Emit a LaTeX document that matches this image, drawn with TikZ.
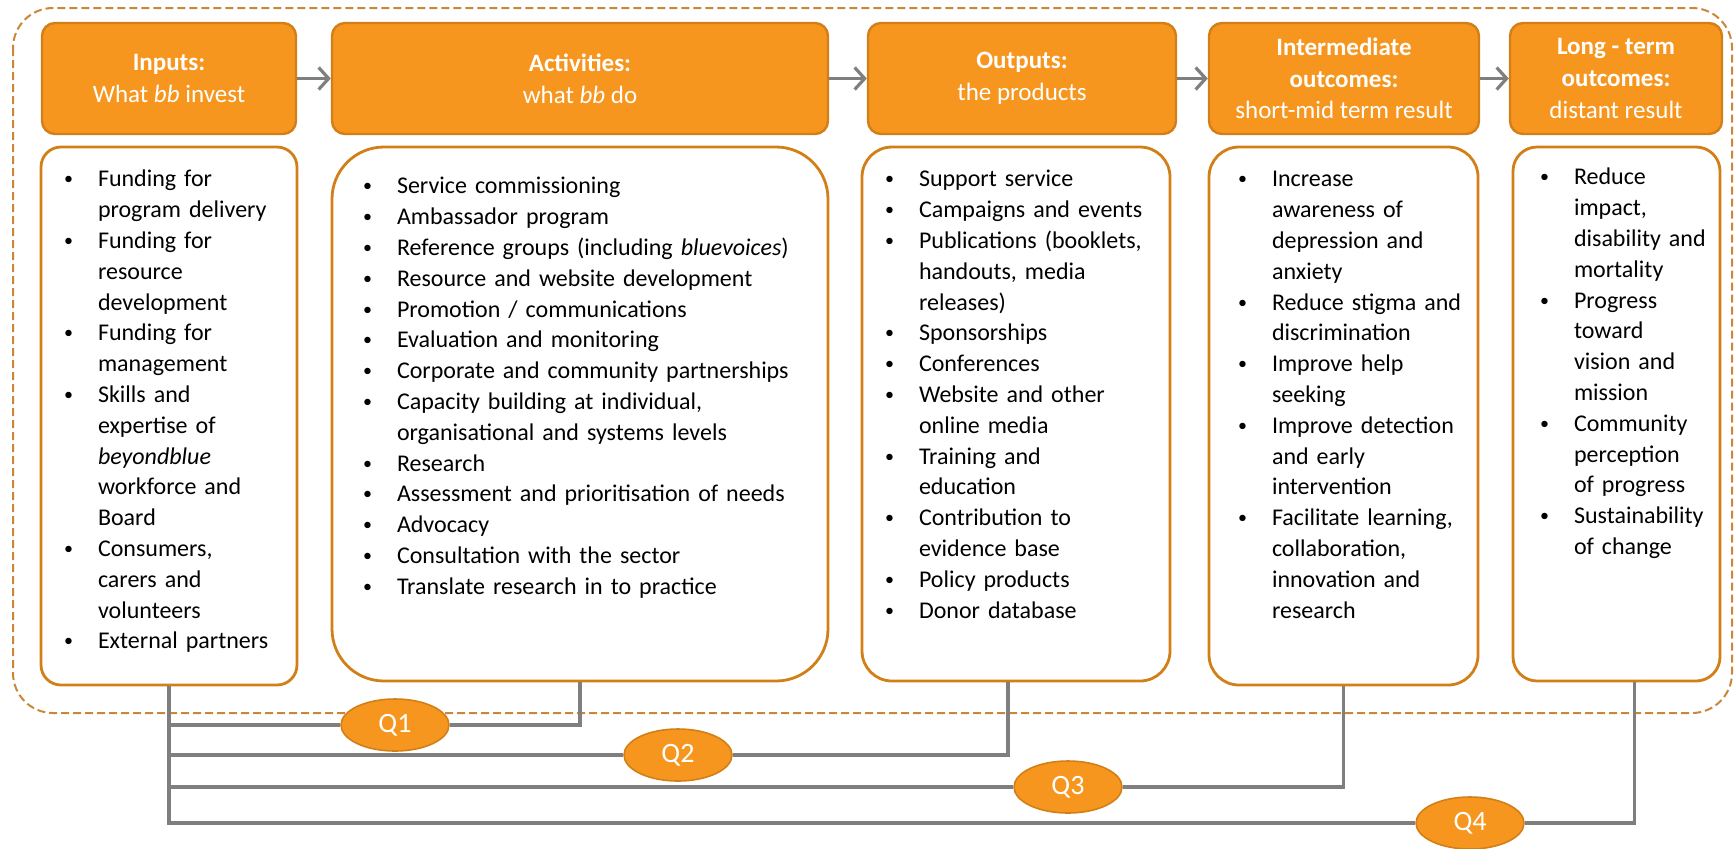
\documentclass[tikz,border=0pt]{standalone}
\usepackage{fontspec}
\setmainfont{Carlito}
\usetikzlibrary{shapes.geometric,arrows.meta}

\definecolor{boxorange}{HTML}{F7961E}
\definecolor{boxedge}{HTML}{D27F17}
\definecolor{dashedge}{HTML}{C9873A}
\definecolor{linkgrey}{HTML}{7F7F7F}

\newcommand{\bitem}[1]{\par\noindent\hangindent=17pt\hangafter=1\strut
  \makebox[17pt][l]{\raisebox{1pt}{\fontsize{9}{9}\selectfont\textbullet}}#1\par}

\tikzset{
  headbox/.style={draw=boxedge, fill=boxorange, line width=1.2pt, rounded corners=6.5pt,
    text=white, align=center, inner sep=0pt, minimum height=55.5pt,
    font=\fontsize{12.5}{15.8}\selectfont},
  bodybox/.style={draw=boxedge, fill=white, line width=1.4pt, inner sep=0pt},
  bodytext/.style={anchor=north west, inner sep=0pt, align=left, xshift=12pt, yshift=-5pt,
    font=\fontsize{12}{15.4}\selectfont},
  flowarrow/.style={draw=linkgrey, line width=1.6pt,
    -{Straight Barb[length=5pt,width=11pt,line width=1.6pt]}},
  qline/.style={draw=linkgrey, line width=1.6pt},
  qmark/.style={ellipse, draw=boxedge, fill=boxorange, line width=0.8pt, text=white,
    minimum width=54pt, minimum height=26pt, inner sep=0pt,
    font=\fontsize{14}{16}\selectfont},
}

\begin{document}
\begin{tikzpicture}[x=0.5pt, y=-0.5pt]
  \useasboundingbox (0,0) rectangle (1734,848);
  \draw[dashedge, line width=1pt, dash pattern=on 4pt off 2pt, rounded corners=20pt]
    (13,8) rectangle (1732,713);

  % header row
  \node[headbox, minimum width=127pt] (inhead) at (169,78.5) {\textbf{Inputs:}\\What \textit{bb} invest};
  \node[headbox, minimum width=248pt] (acthead) at (580,78.5) {\textbf{Activities:}\\what \textit{bb} do};
  \node[headbox, minimum width=154pt] (outhead) at (1022,78.5) {\textbf{Outputs:}\\the products};
  \node[headbox, minimum width=135pt] (midhead) at (1344,78.5) {\textbf{Intermediate}\\\textbf{outcomes:}\\short-mid term result};
  \node[headbox, minimum width=106pt] (longhead) at (1616,78.5) {\textbf{Long - term}\\\textbf{outcomes:}\\distant result};

  \draw[flowarrow] (inhead) -- (acthead);
  \draw[flowarrow] (acthead) -- (outhead);
  \draw[flowarrow] (outhead) -- (midhead);
  \draw[flowarrow] (midhead) -- (longhead);

  % body boxes
  \node[bodybox, rounded corners=10pt, minimum width=128pt, minimum height=269pt] (inbody) at (169,416) {};
  \node[bodybox, rounded corners=26pt, minimum width=248pt, minimum height=267pt] (actbody) at (580,414) {};
  \node[bodybox, rounded corners=15pt, minimum width=154pt, minimum height=267pt] (outbody) at (1016,414) {};
  \node[bodybox, rounded corners=15pt, minimum width=134.5pt, minimum height=269pt] (midbody) at (1343.5,416) {};
  \node[bodybox, rounded corners=12pt, minimum width=103.5pt, minimum height=267pt] (longbody) at (1616.5,414) {};

  \node[bodytext, text width=128pt] (intext) at (inbody.north west) {%
    \bitem{Funding for\newline program delivery}
    \bitem{Funding for\newline resource\newline development}
    \bitem{Funding for\newline management}
    \bitem{Skills and\newline expertise of\newline \textit{beyondblue}\newline workforce and\newline Board}
    \bitem{Consumers,\newline carers and\newline volunteers}
    \bitem{External partners}};
  \node[bodytext, text width=248pt, xshift=4pt, yshift=-3.5pt] (acttext) at (actbody.north west) {%
    \bitem{Service commissioning}
    \bitem{Ambassador program}
    \bitem{Reference groups (including \textit{bluevoices})}
    \bitem{Resource and website development}
    \bitem{Promotion / communications}
    \bitem{Evaluation and monitoring}
    \bitem{Corporate and community partnerships}
    \bitem{Capacity building at individual,\newline organisational and systems levels}
    \bitem{Research}
    \bitem{Assessment and prioritisation of needs}
    \bitem{Advocacy}
    \bitem{Consultation with the sector}
    \bitem{Translate research in to practice}};
  \node[bodytext, text width=154pt] (outtext) at (outbody.north west) {%
    \bitem{Support service}
    \bitem{Campaigns and events}
    \bitem{Publications (booklets,\newline handouts, media\newline releases)}
    \bitem{Sponsorships}
    \bitem{Conferences}
    \bitem{Website and other\newline online media}
    \bitem{Training and\newline education}
    \bitem{Contribution to\newline evidence base}
    \bitem{Policy products}
    \bitem{Donor database}};
  \node[bodytext, text width=134pt, xshift=3pt] (midtext) at (midbody.north west) {%
    \bitem{Increase\newline awareness of\newline depression and\newline anxiety}
    \bitem{Reduce stigma and\newline discrimination}
    \bitem{Improve help\newline seeking}
    \bitem{Improve detection\newline and early\newline intervention}
    \bitem{Facilitate learning,\newline collaboration,\newline innovation and\newline research}};
  \node[bodytext, text width=104pt, xshift=2pt, yshift=1pt] (longtext) at (longbody.north west) {%
    \bitem{Reduce\newline impact,\newline disability and\newline mortality}
    \bitem{Progress\newline toward\newline vision and\newline mission}
    \bitem{Community\newline perception\newline of progress}
    \bitem{Sustainability\newline of change}};

  % evaluation questions
  \node[qmark] (q1) at (395,725) {Q1};
  \node[qmark] (q2) at (678,755) {Q2};
  \node[qmark] (q3) at (1068,787) {Q3};
  \node[qmark] (q4) at (1470,823) {Q4};

  \draw[qline] (inbody.south) |- (q1) -| (actbody.south);
  \draw[qline] (inbody.south) |- (q2) -| ([xshift=-4pt]outbody.south);
  \draw[qline] (inbody.south) |- (q3) -| (midbody.south);
  \draw[qline] (inbody.south) |- (q4) -| ([xshift=9pt]longbody.south);
\end{tikzpicture}
\end{document}
